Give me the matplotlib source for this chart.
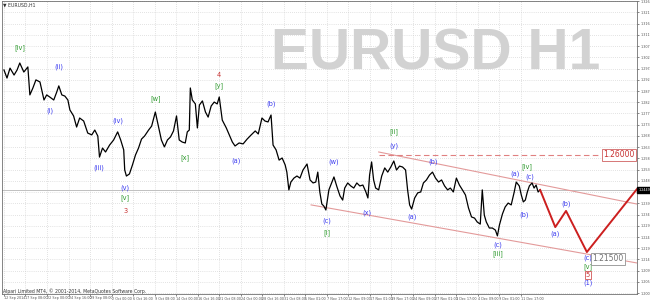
import numpy as np
import matplotlib.pyplot as plt

# EURUSD H1, hourly bar number counted from 12 Sep 2014 16:00, closes
bars = [0, 9, 18, 30, 39, 47, 59, 71, 77, 86, 95, 107, 119, 127, 136, 148, 157, 163, 172, 181,
        190, 196, 207, 216, 225, 237, 249, 261, 270, 279, 284, 293, 302, 314, 326, 338, 347, 356,
        359, 364, 373, 382, 391, 400, 409, 418, 430, 439, 450, 459, 468, 477, 486, 495, 504, 513,
        521, 530, 539, 545, 551, 554, 560, 569, 575, 581, 590, 599, 607, 616, 625, 634, 640, 649,
        661, 670, 679, 687, 699, 711, 723, 735, 747, 756, 767, 776, 785, 794, 800, 809, 818, 827,
        836, 841, 847, 853, 862, 871, 880, 889, 901, 910, 919, 927, 933, 939, 945, 951, 957, 966,
        975, 981, 990, 999, 1007, 1013, 1022, 1031, 1040, 1049, 1058, 1067, 1076, 1082, 1087,
        1093, 1099, 1105, 1114, 1123, 1132, 1141, 1150, 1159, 1167, 1176, 1185, 1194, 1200, 1206,
        1212, 1221, 1230, 1239, 1247, 1256, 1265, 1274, 1283, 1292, 1301, 1310, 1319, 1327, 1336,
        1345, 1354, 1363, 1372, 1381, 1390, 1399, 1407, 1416, 1422, 1428, 1434, 1443, 1452, 1461,
        1467, 1473, 1482, 1490, 1499, 1508, 1517, 1523, 1532, 1538, 1544, 1550, 1556, 1562, 1570,
        1576, 1582, 1588, 1594]
closes = [1.2968, 1.2933, 1.2976, 1.2946, 1.2968, 1.2998, 1.2959, 1.2981, 1.2860, 1.2890, 1.2925,
          1.2916, 1.2838, 1.2860, 1.2851, 1.2838, 1.2873, 1.2899, 1.2860, 1.2855, 1.2838, 1.2795,
          1.2769, 1.2721, 1.2760, 1.2747, 1.2695, 1.2687, 1.2708, 1.2682, 1.2591, 1.2630, 1.2613,
          1.2643, 1.2665, 1.2700, 1.2665, 1.2622, 1.2535, 1.2509, 1.2518, 1.2557, 1.2600, 1.2630,
          1.2669, 1.2682, 1.2708, 1.2725, 1.2786, 1.2725, 1.2665, 1.2635, 1.2665, 1.2678, 1.2704,
          1.2769, 1.2665, 1.2656, 1.2652, 1.2700, 1.2708, 1.2890, 1.2838, 1.2821, 1.2717, 1.2816,
          1.2834, 1.2786, 1.2764, 1.2812, 1.2829, 1.2821, 1.2851, 1.2751, 1.2717, 1.2687, 1.2656,
          1.2639, 1.2652, 1.2648, 1.2669, 1.2687, 1.2704, 1.2691, 1.2760, 1.2747, 1.2743, 1.2773,
          1.2643, 1.2622, 1.2578, 1.2587, 1.2557, 1.2526, 1.2449, 1.2483, 1.2500, 1.2509, 1.2500,
          1.2535, 1.2561, 1.2492, 1.2479, 1.2483, 1.2526, 1.2440, 1.2388, 1.2379, 1.2362, 1.2449,
          1.2483, 1.2505, 1.2462, 1.2423, 1.2405, 1.2457, 1.2479, 1.2466, 1.2457, 1.2479, 1.2466,
          1.2470, 1.2440, 1.2414, 1.2513, 1.2570, 1.2492, 1.2457, 1.2449, 1.2509, 1.2544, 1.2526,
          1.2548, 1.2574, 1.2535, 1.2552, 1.2548, 1.2535, 1.2449, 1.2384, 1.2366, 1.2414, 1.2436,
          1.2440, 1.2479, 1.2492, 1.2513, 1.2526, 1.2500, 1.2483, 1.2492, 1.2466, 1.2449, 1.2457,
          1.2440, 1.2500, 1.2470, 1.2449, 1.2427, 1.2371, 1.2332, 1.2327, 1.2310, 1.2301, 1.2449,
          1.2340, 1.2310, 1.2284, 1.2284, 1.2275, 1.2250, 1.2297, 1.2345, 1.2375, 1.2392, 1.2384,
          1.2440, 1.2483, 1.2466, 1.2427, 1.2397, 1.2405, 1.2440, 1.2466, 1.2479, 1.2457, 1.2470,
          1.2440, 1.2449]

# forecast path drawn in red
proj_bars = [1594, 1639, 1671, 1733, 1881]
proj_prices = [1.2449, 1.2288, 1.2358, 1.2180, 1.2451]

# channel lines
upper_bars = [1114, 1881]
upper_prices = [1.2613, 1.2388]
lower_bars = [913, 1881]
lower_prices = [1.2384, 1.2133]

level_hi = 1.26000
level_lo = 1.21500
last_price = 1.2449

time_labels = ["12 Sep 2014", "17 Sep 08:00", "22 Sep 00:00", "24 Sep 16:00", "29 Sep 08:00",
               "2 Oct 00:00", "6 Oct 16:00", "9 Oct 08:00", "14 Oct 00:00", "16 Oct 16:00",
               "21 Oct 08:00", "24 Oct 00:00", "28 Oct 16:00", "31 Oct 08:00", "5 Nov 01:00",
               "7 Nov 17:00", "12 Nov 09:00", "17 Nov 01:00", "19 Nov 17:00", "24 Nov 09:00",
               "27 Nov 01:00", "1 Dec 17:00", "4 Dec 09:00", "9 Dec 01:00", "11 Dec 17:00"]

BLUE = "#3c3cf0"
GREEN = "#2e9a2e"
RED = "#c83232"

# wave count labels: text, bar, price, colour
waves = [
    ("[iv]", 47, 1.3063, GREEN), ("(ii)", 163, 1.2981, BLUE), ("(i)", 136, 1.2790, BLUE),
    ("(iii)", 281, 1.2544, BLUE), ("(iv)", 338, 1.2747, BLUE), ("(v)", 361, 1.2457, BLUE),
    ("[v]", 361, 1.2414, GREEN), ("3", 361, 1.2358, RED), ("[w]", 450, 1.2842, GREEN),
    ("[x]", 539, 1.2587, GREEN), ("4", 640, 1.2946, RED), ("[y]", 640, 1.2899, GREEN),
    ("(a)", 690, 1.2574, BLUE), ("(b)", 794, 1.2821, BLUE), ("(w)", 981, 1.2570, BLUE),
    ("(c)", 960, 1.2314, BLUE), ("[i]", 960, 1.2262, GREEN), ("(x)", 1079, 1.2349, BLUE),
    ("[ii]", 1159, 1.2700, GREEN), ("(y)", 1159, 1.2639, BLUE), ("(a)", 1212, 1.2332, BLUE),
    ("(b)", 1277, 1.2570, BLUE), ("(c)", 1467, 1.2211, BLUE), ("[iii]", 1467, 1.2172, GREEN),
    ("(a)", 1520, 1.2518, BLUE), ("(b)", 1547, 1.2340, BLUE), ("[iv]", 1556, 1.2548, GREEN),
    ("(c)", 1564, 1.2505, BLUE), ("(a)", 1639, 1.2258, BLUE), ("(b)", 1671, 1.2388, BLUE),
    ("(c)", 1736, 1.2154, BLUE), ("[v]", 1736, 1.2115, GREEN), ("5", 1736, 1.2081, RED),
    ("(1)", 1736, 1.2046, BLUE),
]

fig = plt.figure(figsize=(6.5, 3), dpi=100)
ax = fig.add_axes([0.003, 0.02, 0.977, 0.9767])

# watermark
fig.text(0.671, 0.817, "EURUSD H1", family="Liberation Sans", weight="bold",
         fontsize=41, color="#d2d2d2", ha="center", va="center", zorder=0)

ax.set_facecolor("none")
ax.set_xlim(-6, 1882)
ax.set_ylim(1.19985, 1.32664)

yt = np.arange(1.2002, 1.3270, 0.00486)
ax.set_yticks(yt)
ax.set_yticklabels(["%.5f" % v for v in yt])
ax.yaxis.tick_right()
ax.tick_params(axis="y", labelsize=2.4, length=1.5, pad=0.8, colors="#555555", width=0.5)
ax.set_xticks(np.arange(len(time_labels)) * 64)
ax.set_xticklabels(time_labels)
ax.tick_params(axis="x", labelsize=2.4, length=1.5, pad=0.3, colors="#555555", width=0.5)
for lab in ax.get_xticklabels():
    lab.set_ha("left")
ax.grid(True, color="#c8c8c8", lw=0.5, ls=(0, (1, 2)))
for s in ax.spines.values():
    s.set_color("#707070")
    s.set_linewidth(0.6)

# bid line
ax.axhline(last_price, color="#c0c0c0", lw=0.7)

# channel and levels
ax.plot(upper_bars, upper_prices, color="#e39a9a", lw=0.8)
ax.plot(lower_bars, lower_prices, color="#e39a9a", lw=0.8)
ax.plot([1114, 1772], [level_hi, level_hi], color="#e08080", lw=0.8, ls=(0, (5, 3)))

# price
ax.plot(bars, closes, color="black", lw=0.9)
ax.plot(proj_bars, proj_prices, color="#cc1f1f", lw=1.4)

for txt, b, p, c in waves:
    kw = {}
    if txt == "5":
        kw["bbox"] = dict(boxstyle="square,pad=0.15", fc="none", ec=RED, lw=0.5)
    ax.text(b, p, txt, color=c, fontsize=4.8, ha="center", va="center", **kw)

ax.text(1875, level_hi, "1.26000", color="#c83232", fontsize=5.5, ha="right", va="center",
        bbox=dict(boxstyle="square,pad=0.2", fc="white", ec="#d06060", lw=0.6))
ax.text(1842, level_lo, "1.21500", color="#707070", fontsize=5.5, ha="right", va="center",
        bbox=dict(boxstyle="square,pad=0.2", fc="white", ec="#909090", lw=0.6))
ax.text(1.002, last_price, "%.5f" % last_price, transform=ax.get_yaxis_transform(),
        color="white", fontsize=2.4, ha="left", va="center",
        bbox=dict(boxstyle="square,pad=0.3", fc="black", ec="black"))

fig.text(0.005, 0.983, "\u25bc EURUSD,H1", fontsize=3.3, color="#333333", va="center")
fig.text(0.005, 0.03, "Alpari Limited MT4, \u00a9 2001-2014, MetaQuotes Software Corp.",
         fontsize=3.3, color="#333333", va="center")

fig.savefig("out.png", dpi=100)
